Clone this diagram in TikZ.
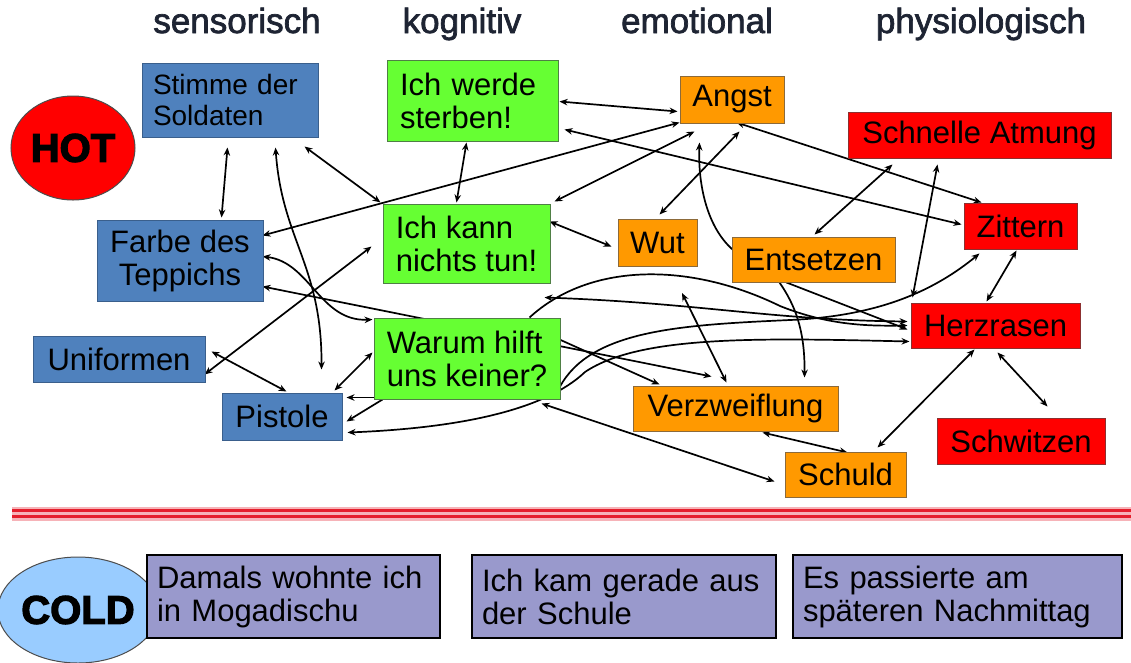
\documentclass[tikz,border=0pt]{standalone}
\usepackage{fontspec}
\setmainfont{Liberation Sans}
\newfontfamily\headfont[FakeBold=2]{Liberation Sans}
\newfontfamily\heavyfont[BoldFeatures={FakeBold=3}]{Liberation Sans}
\usetikzlibrary{arrows.meta,shapes.geometric}
\pgfdeclarelayer{bg}
\pgfsetlayers{bg,main}
\definecolor{blueF}{HTML}{4F81BD}
\definecolor{blueD}{HTML}{3A5F8C}
\definecolor{greenF}{HTML}{66FF33}
\definecolor{greenD}{HTML}{4F7F45}
\definecolor{orangeF}{HTML}{FF9900}
\definecolor{orangeD}{HTML}{8C6A3A}
\definecolor{redF}{HTML}{FF0000}
\definecolor{redD}{HTML}{8C3030}
\definecolor{coldF}{HTML}{9999CC}
\definecolor{coldC}{HTML}{99CCFF}
\definecolor{headC}{HTML}{1E2433}
\definecolor{sepRed}{HTML}{E51F2C}
\definecolor{sepPink}{HTML}{F6B3B8}
\begin{document}
\begin{tikzpicture}[x=1pt,y=-1pt,
  >={Stealth[length=8pt,width=6.5pt]},
  conn/.style={line width=1.7pt,black},
  boxbase/.style={rectangle,inner sep=0pt,line width=1pt,text=black,align=left,font=\fontsize{31}{33}\selectfont},
  bluebox/.style={boxbase,fill=blueF,draw=blueD},
  greenbox/.style={boxbase,fill=greenF,draw=greenD},
  orangebox/.style={boxbase,fill=orangeF,draw=orangeD},
  redbox/.style={boxbase,fill=redF,draw=redD},
  coldbox/.style={boxbase,fill=coldF,draw=black,line width=2pt,inner xsep=10pt},
  header/.style={anchor=base,font=\headfont\fontsize{35}{38}\selectfont,text=headC},
  tag/.style={ellipse,draw=black!70,line width=1pt,inner sep=0pt,font=\heavyfont\bfseries\fontsize{40}{40}\selectfont}
]
\useasboundingbox (0,0) rectangle (1131,662);

% headers
\node[header] (h1) at (237,33) {sensorisch};
\node[header] (h2) at (462,33) {kognitiv};
\node[header] (h3) at (697,33) {emotional};
\node[header] (h4) at (981,33) {physiologisch};

% HOT / COLD
\node[tag,fill=redF,minimum width=124,minimum height=104] (hot) at (73,148) {HOT};
\node[tag,fill=coldC,minimum width=126,minimum height=106] (cold) at (78,610) {COLD};

% sensory
\node[bluebox,minimum height=74,inner xsep=11pt,text width=154,font=\fontsize{28}{31}\selectfont] (stimme) at (230,100) {Stimme der\\Soldaten};
\node[bluebox,minimum width=166,minimum height=81,align=center] (farbe) at (180,260.5) {Farbe des\\Teppichs};
\node[bluebox,minimum width=172,minimum height=46] (uniform) at (119,359) {Uniformen};
\node[bluebox,minimum width=120,minimum height=47] (pistole) at (282,416.5) {Pistole};

% cognitive
\node[greenbox,minimum height=81,inner xsep=13pt,text width=145] (werde) at (472.5,100.5) {Ich werde\\sterben!};
\node[greenbox,minimum width=167,minimum height=79] (kann) at (466.5,243.5) {Ich kann\\nichts tun!};
\node[greenbox,minimum width=186,minimum height=81] (warum) at (467,358.5) {Warum hilft\\uns keiner?};

% emotional
\node[orangebox,minimum width=104,minimum height=47] (angst) at (732,99.5) {Angst};
\node[orangebox,minimum width=79,minimum height=47] (wut) at (657.5,242.5) {Wut};
\node[orangebox,minimum width=163,minimum height=45] (entsetzen) at (813.5,259.5) {Entsetzen};
\node[orangebox,minimum width=205,minimum height=45] (verzw) at (735.5,408.5) {Verzweiflung};
\node[orangebox,minimum width=121,minimum height=45] (schuld) at (845.5,474.5) {Schuld};

% physiological
\node[redbox,minimum width=263,minimum height=46] (atmung) at (979.5,135) {Schnelle Atmung};
\node[redbox,minimum width=113,minimum height=46] (zittern) at (1020.5,226) {Zittern};
\node[redbox,minimum width=169,minimum height=45] (herz) at (995.5,325.5) {Herzrasen};
\node[redbox,minimum width=168,minimum height=46] (schwitzen) at (1021,441) {Schwitzen};

% cold boxes
\node[coldbox,minimum height=83,text width=273] (c1) at (293.5,596.5) {Damals wohnte ich\\in Mogadischu};
\node[coldbox,minimum height=83,text width=284] (c2) at (624,596.5) {Ich kam gerade aus\\der Schule};
\node[coldbox,minimum height=83,text width=309] (c3) at (957.5,596.5) {Es passierte am\\späteren Nachmittag};

\coordinate (free1) at (682,293);

\begin{pgfonlayer}{bg}
% separator
\fill[sepPink] (12,507) rectangle (1131,521);
\draw[sepRed,line width=2.6pt] (12,510.5) -- (1131,510.5);
\draw[sepRed,line width=2.6pt] (12,516.5) -- (1131,516.5);

% sensory connectors
\draw[conn,<->] ([shift={(86,85)}]stimme.north west) -- ([shift={(125,-2)}]farbe.north west);
\draw[conn,<->] ([shift={(134,85)}]stimme.north west) .. controls (282,240) and (322,265) .. ([shift={(100,-23)}]pistole.north west);
\draw[conn,<->] ([shift={(163,84)}]stimme.north west) -- ([shift={(-2,-1)}]kann.north west);
\draw[conn,<->] ([shift={(166,16)}]farbe.north west) -- ([shift={(0,47)}]angst.north west);
\draw[conn,<->] ([shift={(166,37)}]farbe.north west) .. controls (310,262) and (320,322) .. ([shift={(-1,2)}]warum.north west);
\draw[conn,<->] ([shift={(166,67)}]farbe.north west) -- ([shift={(79,-9)}]verzw.north west);
\draw[conn,<->] ([shift={(172,39)}]uniform.north west) -- ([shift={(-11,43)}]kann.north west);
\draw[conn,<->] ([shift={(179,16)}]uniform.north west) -- ([shift={(65,-1)}]pistole.north west);
\draw[conn,<->] ([shift={(113,-2)}]pistole.north west) -- ([shift={(-1,35)}]warum.north west);
\draw[conn,->] ([shift={(0,80)}]warum.north west) -- ([shift={(125,5)}]pistole.north west);
\draw[conn,->] ([shift={(9,82)}]warum.north west) -- ([shift={(125,29)}]pistole.north west);
\draw[conn,<->] ([shift={(-1,39)}]herz.north west) .. controls (760,338) and (640,335) .. (585,372) .. controls (545,410) and (460,428) .. ([shift={(126,40)}]pistole.north west);

% cognitive / emotional connectors
\draw[conn,<->] ([shift={(173,42)}]werde.north west) -- ([shift={(-2,36)}]angst.north west);
\draw[conn,<->] ([shift={(80,83)}]werde.north west) -- ([shift={(74,-1)}]kann.north west);
\draw[conn,<->] ([shift={(178,70)}]werde.north west) -- ([shift={(-2,22)}]zittern.north west);
\draw[conn,<->] ([shift={(57,47)}]angst.north west) -- ([shift={(18,0)}]zittern.north west);
\draw[conn,<->] ([shift={(167,18)}]kann.north west) -- ([shift={(-6,28)}]wut.north west);
\draw[conn,<->] ([shift={(172,-2)}]kann.north west) -- ([shift={(15,56)}]angst.north west);
\draw[conn,<->] ([shift={(42,-4)}]wut.north west) -- ([shift={(60,56)}]angst.north west);
\draw[conn,->] ([shift={(1,13)}]entsetzen.north west) .. controls (705,225) and (698,180) .. ([shift={(20,67)}]angst.north west);
\draw[conn,<->] ([shift={(83,-2)}]entsetzen.north west) -- ([shift={(45,53)}]atmung.north west);
\draw[conn,<->] ([shift={(2,-5)}]herz.north west) -- ([shift={(90,53)}]atmung.north west);
\draw[conn,<->] ([shift={(53,48)}]zittern.north west) -- ([shift={(76,-1)}]herz.north west);
\draw[conn,<->] ([shift={(87,50)}]herz.north west) -- ([shift={(111,-11)}]schwitzen.north west);
\draw[conn,<->] ([shift={(64,47)}]herz.north west) -- ([shift={(93,-4)}]schuld.north west);
\draw[conn,<->] ([shift={(130,47)}]verzw.north west) -- ([shift={(63,1)}]schuld.north west);
\draw[conn,<->] ([shift={(168,86)}]warum.north west) -- ([shift={(-10,30)}]schuld.north west);
\draw[conn,<->] ([shift={(94,-3)}]verzw.north west) -- (free1);
\draw[conn,->] ([shift={(48,46)}]entsetzen.north west) .. controls (795,305) and (805,330) .. ([shift={(172,-8)}]verzw.north west);
\draw[conn,->] ([shift={(55,46)}]entsetzen.north west) -- ([shift={(-3,27)}]herz.north west);
\draw[conn,<->] ([shift={(171,-20)}]warum.north west) .. controls (700,303) and (770,320) .. ([shift={(-3,19)}]herz.north west);
\draw[conn,->] ([shift={(156,0)}]warum.north west) .. controls (590,262) and (690,262) .. (780,306) .. controls (830,326) and (870,326) .. ([shift={(-3,23)}]herz.north west);
\draw[conn,->] ([shift={(186,70)}]warum.north west) .. controls (590,330) and (680,325) .. (790,320) .. controls (880,316) and (935,290) .. ([shift={(16,51)}]zittern.north west);
\draw[conn,->] ([shift={(186,22)}]warum.north west) -- ([shift={(27,-1)}]verzw.north west);
\end{pgfonlayer}
\end{tikzpicture}
\end{document}
